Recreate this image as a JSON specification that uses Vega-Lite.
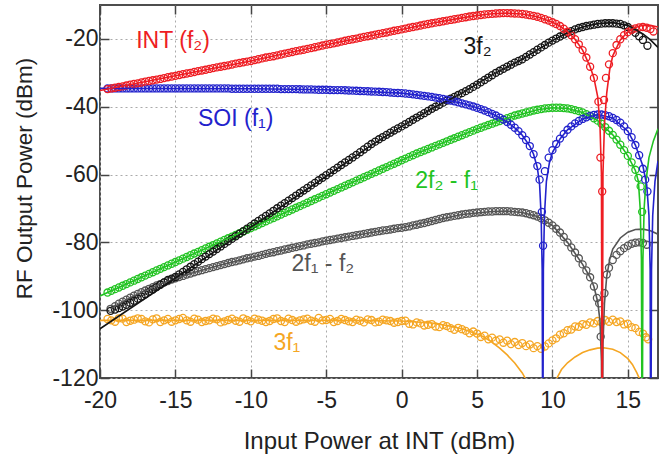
{
"$schema": "https://vega.github.io/schema/vega-lite/v6.json",
"width": 558, "height": 373,
"autosize": "none",
"padding": {"left": 100, "top": 5, "right": 7, "bottom": 82},
"background": "white",
"config": {"view": {"stroke": "#4d4d4d", "strokeWidth": 2}, "font": "Liberation Sans"},
"datasets": {
"pts": [
{"s":"O","x":-19.5,"y":-102.6},{"s":"O","x":-19,"y":-103.4},{"s":"O","x":-18.5,"y":-102.5},{"s":"O","x":-18,"y":-103.1},{"s":"O","x":-17.5,"y":-102.4},{"s":"O","x":-17,"y":-103.3},{"s":"O","x":-16.5,"y":-102.7},{"s":"O","x":-16,"y":-103.5},{"s":"O","x":-15.5,"y":-102.6},{"s":"O","x":-15,"y":-103.0},{"s":"O","x":-14.5,"y":-102.3},{"s":"O","x":-14,"y":-103.4},{"s":"O","x":-13.5,"y":-102.8},{"s":"O","x":-13,"y":-103.2},{"s":"O","x":-12.5,"y":-102.5},{"s":"O","x":-12,"y":-103.6},{"s":"O","x":-11.5,"y":-102.9},{"s":"O","x":-11,"y":-103.1},{"s":"O","x":-10.5,"y":-102.4},{"s":"O","x":-10,"y":-103.3},{"s":"O","x":-9.5,"y":-102.8},{"s":"O","x":-9,"y":-103.5},{"s":"O","x":-8.5,"y":-102.6},{"s":"O","x":-8,"y":-103.2},{"s":"O","x":-7.5,"y":-102.5},{"s":"O","x":-7,"y":-103.4},{"s":"O","x":-6.5,"y":-102.7},{"s":"O","x":-6,"y":-103.1},{"s":"O","x":-5.5,"y":-102.3},{"s":"O","x":-5,"y":-102.9},{"s":"O","x":-4.5,"y":-103.5},{"s":"O","x":-4,"y":-102.6},{"s":"O","x":-3.5,"y":-103.3},{"s":"O","x":-3,"y":-102.8},{"s":"O","x":-2.5,"y":-103.6},{"s":"O","x":-2,"y":-102.9},{"s":"O","x":-1.5,"y":-103.4},{"s":"O","x":-1,"y":-103.0},{"s":"O","x":-0.5,"y":-103.7},{"s":"O","x":0,"y":-103.2},{"s":"O","x":0.5,"y":-104.0},{"s":"O","x":1,"y":-103.6},{"s":"O","x":1.5,"y":-104.5},{"s":"O","x":2,"y":-104.1},{"s":"O","x":2.5,"y":-105.0},{"s":"O","x":3,"y":-104.7},{"s":"O","x":3.5,"y":-105.8},{"s":"O","x":4,"y":-105.6},{"s":"O","x":4.5,"y":-106.8},{"s":"O","x":5,"y":-106.9},{"s":"O","x":5.25,"y":-107.9},{"s":"O","x":5.5,"y":-107.5},{"s":"O","x":5.75,"y":-108.6},{"s":"O","x":6,"y":-108.1},{"s":"O","x":6.25,"y":-109.0},{"s":"O","x":6.5,"y":-108.6},{"s":"O","x":6.75,"y":-109.6},{"s":"O","x":7,"y":-109.0},{"s":"O","x":7.25,"y":-110.0},{"s":"O","x":7.5,"y":-109.4},{"s":"O","x":7.75,"y":-110.3},{"s":"O","x":8,"y":-109.7},{"s":"O","x":8.25,"y":-110.6},{"s":"O","x":8.5,"y":-110.1},{"s":"O","x":8.75,"y":-111.2},{"s":"O","x":9,"y":-110.6},{"s":"O","x":9.25,"y":-111.4},{"s":"O","x":9.5,"y":-110.7},{"s":"O","x":9.75,"y":-109.8},{"s":"O","x":10,"y":-108.9},{"s":"O","x":10.25,"y":-108.3},{"s":"O","x":10.5,"y":-107.2},{"s":"O","x":10.75,"y":-106.8},{"s":"O","x":11,"y":-105.9},{"s":"O","x":11.25,"y":-105.7},{"s":"O","x":11.5,"y":-104.8},{"s":"O","x":11.75,"y":-104.9},{"s":"O","x":12,"y":-104.1},{"s":"O","x":12.25,"y":-104.3},{"s":"O","x":12.5,"y":-103.6},{"s":"O","x":12.75,"y":-103.9},{"s":"O","x":13,"y":-103.2},{"s":"O","x":13.25,"y":-103.6},{"s":"O","x":13.5,"y":-102.9},{"s":"O","x":13.75,"y":-103.4},{"s":"O","x":14,"y":-102.8},{"s":"O","x":14.25,"y":-103.5},{"s":"O","x":14.5,"y":-103.3},{"s":"O","x":14.75,"y":-104.2},{"s":"O","x":15,"y":-104.0},{"s":"O","x":15.25,"y":-105.0},{"s":"O","x":15.5,"y":-105.3},{"s":"O","x":15.75,"y":-106.4},{"s":"O","x":16,"y":-106.9},{"s":"O","x":16.2,"y":-108.0},{"s":"O","x":16.35,"y":-108.6},
{"s":"O","x":-19.25,"y":-103.0},{"s":"O","x":-18.75,"y":-102.4},{"s":"O","x":-18.25,"y":-103.5},{"s":"O","x":-17.75,"y":-102.8},{"s":"O","x":-17.25,"y":-102.6},{"s":"O","x":-16.75,"y":-103.6},{"s":"O","x":-16.25,"y":-102.4},{"s":"O","x":-15.75,"y":-103.0},{"s":"O","x":-15.25,"y":-103.4},{"s":"O","x":-14.75,"y":-102.6},{"s":"O","x":-14.25,"y":-103.0},{"s":"O","x":-13.75,"y":-102.5},{"s":"O","x":-13.25,"y":-103.5},{"s":"O","x":-12.75,"y":-103.0},{"s":"O","x":-12.25,"y":-102.7},{"s":"O","x":-11.75,"y":-103.3},{"s":"O","x":-11.25,"y":-102.5},{"s":"O","x":-10.75,"y":-103.4},{"s":"O","x":-10.25,"y":-102.9},{"s":"O","x":-9.75,"y":-102.5},{"s":"O","x":-9.25,"y":-103.1},{"s":"O","x":-8.75,"y":-103.2},{"s":"O","x":-8.25,"y":-102.4},{"s":"O","x":-7.75,"y":-103.5},{"s":"O","x":-7.25,"y":-102.9},{"s":"O","x":-6.75,"y":-103.0},{"s":"O","x":-6.25,"y":-102.5},{"s":"O","x":-5.75,"y":-103.4},{"s":"O","x":-5.25,"y":-103.0},{"s":"O","x":-4.75,"y":-102.6},{"s":"O","x":-4.25,"y":-103.2},{"s":"O","x":-3.75,"y":-102.9},{"s":"O","x":-3.25,"y":-103.5},{"s":"O","x":-2.75,"y":-103.1},{"s":"O","x":-2.25,"y":-102.7},{"s":"O","x":-1.75,"y":-103.6},{"s":"O","x":-1.25,"y":-102.8},{"s":"O","x":-0.75,"y":-103.2},{"s":"O","x":-0.25,"y":-103.5},{"s":"O","x":0.25,"y":-103.1},{"s":"O","x":0.75,"y":-104.2},{"s":"O","x":1.25,"y":-103.9},{"s":"O","x":1.75,"y":-104.3},{"s":"O","x":2.25,"y":-104.8},{"s":"O","x":2.75,"y":-104.4},{"s":"O","x":3.25,"y":-105.3},{"s":"O","x":3.75,"y":-105.2},{"s":"O","x":4.25,"y":-106.1},{"s":"O","x":4.75,"y":-106.3},
{"s":"D","x":-19.3,"y":-99.6},{"s":"D","x":-19,"y":-98.8},{"s":"D","x":-18.5,"y":-97.5},{"s":"D","x":-18,"y":-96.3},{"s":"D","x":-17.5,"y":-95.2},{"s":"D","x":-17,"y":-94.2},{"s":"D","x":-16.5,"y":-93.2},{"s":"D","x":-16,"y":-92.3},{"s":"D","x":-15.5,"y":-91.4},{"s":"D","x":-15,"y":-90.6},{"s":"D","x":-14.5,"y":-89.9},{"s":"D","x":-14,"y":-89.2},{"s":"D","x":-13.5,"y":-88.5},{"s":"D","x":-13,"y":-87.9},{"s":"D","x":-12.5,"y":-87.3},{"s":"D","x":-12,"y":-86.7},{"s":"D","x":-11.5,"y":-86.1},{"s":"D","x":-11,"y":-85.6},{"s":"D","x":-10.5,"y":-85.0},{"s":"D","x":-10,"y":-84.5},{"s":"D","x":-9.5,"y":-84.0},{"s":"D","x":-9,"y":-83.4},{"s":"D","x":-8.5,"y":-82.9},{"s":"D","x":-8,"y":-82.4},{"s":"D","x":-7.5,"y":-81.9},{"s":"D","x":-7,"y":-81.4},{"s":"D","x":-6.5,"y":-80.9},{"s":"D","x":-6,"y":-80.4},{"s":"D","x":-5.5,"y":-80.0},{"s":"D","x":-5,"y":-79.5},{"s":"D","x":-4.5,"y":-79.1},{"s":"D","x":-4,"y":-78.7},{"s":"D","x":-3.5,"y":-78.3},{"s":"D","x":-3,"y":-77.9},{"s":"D","x":-2.5,"y":-77.5},{"s":"D","x":-2,"y":-77.1},{"s":"D","x":-1.5,"y":-76.7},{"s":"D","x":-1,"y":-76.4},{"s":"D","x":-0.5,"y":-76.0},{"s":"D","x":0,"y":-75.7},{"s":"D","x":0.5,"y":-75.3},{"s":"D","x":1,"y":-74.8},{"s":"D","x":1.5,"y":-74.3},{"s":"D","x":2,"y":-73.7},{"s":"D","x":2.5,"y":-73.1},{"s":"D","x":3,"y":-72.6},{"s":"D","x":3.5,"y":-72.2},{"s":"D","x":4,"y":-71.8},{"s":"D","x":4.5,"y":-71.5},{"s":"D","x":5,"y":-71.2},{"s":"D","x":5.25,"y":-71.1},{"s":"D","x":5.5,"y":-71.0},{"s":"D","x":5.75,"y":-70.9},{"s":"D","x":6,"y":-70.9},{"s":"D","x":6.25,"y":-70.8},{"s":"D","x":6.5,"y":-70.8},{"s":"D","x":6.75,"y":-70.8},{"s":"D","x":7,"y":-70.8},{"s":"D","x":7.25,"y":-70.9},{"s":"D","x":7.5,"y":-71.0},{"s":"D","x":7.75,"y":-71.1},{"s":"D","x":8,"y":-71.2},{"s":"D","x":8.25,"y":-71.4},{"s":"D","x":8.5,"y":-71.7},{"s":"D","x":8.75,"y":-72.0},{"s":"D","x":9,"y":-72.4},{"s":"D","x":9.25,"y":-72.9},{"s":"D","x":9.5,"y":-73.5},{"s":"D","x":9.75,"y":-74.2},{"s":"D","x":10,"y":-75.0},{"s":"D","x":10.25,"y":-76.0},{"s":"D","x":10.5,"y":-77.1},{"s":"D","x":10.75,"y":-78.4},{"s":"D","x":11,"y":-80.0},{"s":"D","x":11.25,"y":-81.5},{"s":"D","x":11.5,"y":-83.0},{"s":"D","x":11.75,"y":-84.7},{"s":"D","x":12,"y":-86.5},{"s":"D","x":12.25,"y":-88.3},{"s":"D","x":12.5,"y":-90.3},{"s":"D","x":12.75,"y":-93.0},{"s":"D","x":12.95,"y":-96.4},{"s":"D","x":13.1,"y":-98.0},{"s":"D","x":13.2,"y":-107.8},{"s":"D","x":13.45,"y":-95.0},{"s":"D","x":13.6,"y":-89.5},{"s":"D","x":13.75,"y":-87.5},{"s":"D","x":14,"y":-85.2},{"s":"D","x":14.25,"y":-83.7},{"s":"D","x":14.5,"y":-82.6},{"s":"D","x":14.75,"y":-81.7},{"s":"D","x":15,"y":-81.0},{"s":"D","x":15.25,"y":-80.4},{"s":"D","x":15.5,"y":-80.1},{"s":"D","x":15.75,"y":-80.0},{"s":"D","x":16,"y":-80.2},{"s":"D","x":16.25,"y":-80.7},
{"s":"D","x":-18.75,"y":-98.1},{"s":"D","x":-18.25,"y":-96.9},{"s":"D","x":-17.75,"y":-95.7},{"s":"D","x":-17.25,"y":-94.7},{"s":"D","x":-16.75,"y":-93.7},{"s":"D","x":-16.25,"y":-92.7},{"s":"D","x":-15.75,"y":-91.8},{"s":"D","x":-15.25,"y":-91.0},{"s":"D","x":-14.75,"y":-90.2},{"s":"D","x":-14.25,"y":-89.5},{"s":"D","x":-13.75,"y":-88.8},{"s":"D","x":-13.25,"y":-88.2},{"s":"D","x":-12.75,"y":-87.6},{"s":"D","x":-12.25,"y":-87.0},{"s":"D","x":-11.75,"y":-86.4},{"s":"D","x":-11.25,"y":-85.8},{"s":"D","x":-10.75,"y":-85.3},{"s":"D","x":-10.25,"y":-84.7},{"s":"D","x":-9.75,"y":-84.2},{"s":"D","x":-9.25,"y":-83.7},{"s":"D","x":-8.75,"y":-83.1},{"s":"D","x":-8.25,"y":-82.6},{"s":"D","x":-7.75,"y":-82.1},{"s":"D","x":-7.25,"y":-81.6},{"s":"D","x":-6.75,"y":-81.1},{"s":"D","x":-6.25,"y":-80.6},{"s":"D","x":-5.75,"y":-80.2},{"s":"D","x":-5.25,"y":-79.7},{"s":"D","x":-4.75,"y":-79.3},{"s":"D","x":-4.25,"y":-78.9},{"s":"D","x":-3.75,"y":-78.5},{"s":"D","x":-3.25,"y":-78.1},{"s":"D","x":-2.75,"y":-77.7},{"s":"D","x":-2.25,"y":-77.3},{"s":"D","x":-1.75,"y":-76.9},{"s":"D","x":-1.25,"y":-76.5},{"s":"D","x":-0.75,"y":-76.2},{"s":"D","x":-0.25,"y":-75.8},{"s":"D","x":0.25,"y":-75.5},{"s":"D","x":0.75,"y":-75.0},{"s":"D","x":1.25,"y":-74.5},{"s":"D","x":1.75,"y":-74.0},{"s":"D","x":2.25,"y":-73.4},{"s":"D","x":2.75,"y":-72.8},{"s":"D","x":3.25,"y":-72.4},{"s":"D","x":3.75,"y":-72.0},{"s":"D","x":4.25,"y":-71.6},{"s":"D","x":4.75,"y":-71.3},
{"s":"G","x":-19.5,"y":-94.8},{"s":"G","x":-19,"y":-93.8},{"s":"G","x":-18.5,"y":-92.8},{"s":"G","x":-18,"y":-91.8},{"s":"G","x":-17.5,"y":-90.8},{"s":"G","x":-17,"y":-89.8},{"s":"G","x":-16.5,"y":-88.8},{"s":"G","x":-16,"y":-87.8},{"s":"G","x":-15.5,"y":-86.8},{"s":"G","x":-15,"y":-85.8},{"s":"G","x":-14.5,"y":-84.8},{"s":"G","x":-14,"y":-83.8},{"s":"G","x":-13.5,"y":-82.8},{"s":"G","x":-13,"y":-81.8},{"s":"G","x":-12.5,"y":-80.8},{"s":"G","x":-12,"y":-79.8},{"s":"G","x":-11.5,"y":-78.8},{"s":"G","x":-11,"y":-77.8},{"s":"G","x":-10.5,"y":-76.8},{"s":"G","x":-10,"y":-75.8},{"s":"G","x":-9.5,"y":-74.8},{"s":"G","x":-9,"y":-73.8},{"s":"G","x":-8.5,"y":-72.8},{"s":"G","x":-8,"y":-71.8},{"s":"G","x":-7.5,"y":-70.8},{"s":"G","x":-7,"y":-69.8},{"s":"G","x":-6.5,"y":-68.8},{"s":"G","x":-6,"y":-67.8},{"s":"G","x":-5.5,"y":-66.8},{"s":"G","x":-5,"y":-65.8},{"s":"G","x":-4.5,"y":-64.8},{"s":"G","x":-4,"y":-63.8},{"s":"G","x":-3.5,"y":-62.8},{"s":"G","x":-3,"y":-61.8},{"s":"G","x":-2.5,"y":-60.8},{"s":"G","x":-2,"y":-59.8},{"s":"G","x":-1.5,"y":-58.8},{"s":"G","x":-1,"y":-57.8},{"s":"G","x":-0.5,"y":-56.8},{"s":"G","x":0,"y":-55.8},{"s":"G","x":0.5,"y":-54.8},{"s":"G","x":1,"y":-53.8},{"s":"G","x":1.5,"y":-52.9},{"s":"G","x":2,"y":-52.0},{"s":"G","x":2.5,"y":-51.1},{"s":"G","x":3,"y":-50.2},{"s":"G","x":3.5,"y":-49.3},{"s":"G","x":4,"y":-48.4},{"s":"G","x":4.5,"y":-47.5},{"s":"G","x":5,"y":-46.6},{"s":"G","x":5.25,"y":-46.2},{"s":"G","x":5.5,"y":-45.8},{"s":"G","x":5.75,"y":-45.4},{"s":"G","x":6,"y":-45.0},{"s":"G","x":6.25,"y":-44.6},{"s":"G","x":6.5,"y":-44.2},{"s":"G","x":6.75,"y":-43.8},{"s":"G","x":7,"y":-43.4},{"s":"G","x":7.25,"y":-43.0},{"s":"G","x":7.5,"y":-42.6},{"s":"G","x":7.75,"y":-42.3},{"s":"G","x":8,"y":-42.0},{"s":"G","x":8.25,"y":-41.7},{"s":"G","x":8.5,"y":-41.4},{"s":"G","x":8.75,"y":-41.1},{"s":"G","x":9,"y":-40.9},{"s":"G","x":9.25,"y":-40.7},{"s":"G","x":9.5,"y":-40.5},{"s":"G","x":9.75,"y":-40.4},{"s":"G","x":10,"y":-40.3},{"s":"G","x":10.25,"y":-40.3},{"s":"G","x":10.5,"y":-40.3},{"s":"G","x":10.75,"y":-40.4},{"s":"G","x":11,"y":-40.5},{"s":"G","x":11.25,"y":-40.7},{"s":"G","x":11.5,"y":-41.0},{"s":"G","x":11.75,"y":-41.3},{"s":"G","x":12,"y":-41.7},{"s":"G","x":12.25,"y":-42.2},{"s":"G","x":12.5,"y":-42.7},{"s":"G","x":12.75,"y":-43.4},{"s":"G","x":13,"y":-44.1},{"s":"G","x":13.25,"y":-45.0},{"s":"G","x":13.5,"y":-46.0},{"s":"G","x":13.75,"y":-47.1},{"s":"G","x":14,"y":-48.3},{"s":"G","x":14.25,"y":-49.7},{"s":"G","x":14.5,"y":-51.2},{"s":"G","x":14.75,"y":-52.8},{"s":"G","x":15,"y":-54.5},{"s":"G","x":15.25,"y":-56.4},{"s":"G","x":15.5,"y":-58.6},{"s":"G","x":15.7,"y":-61.0},{"s":"G","x":15.85,"y":-63.5},{"s":"G","x":15.95,"y":-71.0},
{"s":"G","x":-19.25,"y":-94.3},{"s":"G","x":-18.75,"y":-93.3},{"s":"G","x":-18.25,"y":-92.3},{"s":"G","x":-17.75,"y":-91.3},{"s":"G","x":-17.25,"y":-90.3},{"s":"G","x":-16.75,"y":-89.3},{"s":"G","x":-16.25,"y":-88.3},{"s":"G","x":-15.75,"y":-87.3},{"s":"G","x":-15.25,"y":-86.3},{"s":"G","x":-14.75,"y":-85.3},{"s":"G","x":-14.25,"y":-84.3},{"s":"G","x":-13.75,"y":-83.3},{"s":"G","x":-13.25,"y":-82.3},{"s":"G","x":-12.75,"y":-81.3},{"s":"G","x":-12.25,"y":-80.3},{"s":"G","x":-11.75,"y":-79.3},{"s":"G","x":-11.25,"y":-78.3},{"s":"G","x":-10.75,"y":-77.3},{"s":"G","x":-10.25,"y":-76.3},{"s":"G","x":-9.75,"y":-75.3},{"s":"G","x":-9.25,"y":-74.3},{"s":"G","x":-8.75,"y":-73.3},{"s":"G","x":-8.25,"y":-72.3},{"s":"G","x":-7.75,"y":-71.3},{"s":"G","x":-7.25,"y":-70.3},{"s":"G","x":-6.75,"y":-69.3},{"s":"G","x":-6.25,"y":-68.3},{"s":"G","x":-5.75,"y":-67.3},{"s":"G","x":-5.25,"y":-66.3},{"s":"G","x":-4.75,"y":-65.3},{"s":"G","x":-4.25,"y":-64.3},{"s":"G","x":-3.75,"y":-63.3},{"s":"G","x":-3.25,"y":-62.3},{"s":"G","x":-2.75,"y":-61.3},{"s":"G","x":-2.25,"y":-60.3},{"s":"G","x":-1.75,"y":-59.3},{"s":"G","x":-1.25,"y":-58.3},{"s":"G","x":-0.75,"y":-57.3},{"s":"G","x":-0.25,"y":-56.3},{"s":"G","x":0.25,"y":-55.3},{"s":"G","x":0.75,"y":-54.3},{"s":"G","x":1.25,"y":-53.35},{"s":"G","x":1.75,"y":-52.45},{"s":"G","x":2.25,"y":-51.55},{"s":"G","x":2.75,"y":-50.65},{"s":"G","x":3.25,"y":-49.75},{"s":"G","x":3.75,"y":-48.85},{"s":"G","x":4.25,"y":-47.95},{"s":"G","x":4.75,"y":-47.05},
{"s":"K","x":-19.3,"y":-100.2},{"s":"K","x":-19,"y":-99.8},{"s":"K","x":-18.5,"y":-98.9},{"s":"K","x":-18,"y":-97.8},{"s":"K","x":-17.5,"y":-96.6},{"s":"K","x":-17,"y":-95.3},{"s":"K","x":-16.5,"y":-93.9},{"s":"K","x":-16,"y":-92.5},{"s":"K","x":-15.5,"y":-91.1},{"s":"K","x":-15,"y":-90.2},{"s":"K","x":-14.5,"y":-88.7},{"s":"K","x":-14,"y":-87.2},{"s":"K","x":-13.5,"y":-85.7},{"s":"K","x":-13,"y":-84.2},{"s":"K","x":-12.5,"y":-82.7},{"s":"K","x":-12,"y":-81.2},{"s":"K","x":-11.5,"y":-79.7},{"s":"K","x":-11,"y":-78.2},{"s":"K","x":-10.5,"y":-76.7},{"s":"K","x":-10,"y":-75.2},{"s":"K","x":-9.5,"y":-73.7},{"s":"K","x":-9,"y":-72.2},{"s":"K","x":-8.5,"y":-70.7},{"s":"K","x":-8,"y":-69.2},{"s":"K","x":-7.5,"y":-67.7},{"s":"K","x":-7,"y":-66.2},{"s":"K","x":-6.5,"y":-64.7},{"s":"K","x":-6,"y":-63.2},{"s":"K","x":-5.5,"y":-61.7},{"s":"K","x":-5,"y":-60.2},{"s":"K","x":-4.5,"y":-58.7},{"s":"K","x":-4,"y":-57.2},{"s":"K","x":-3.5,"y":-55.7},{"s":"K","x":-3,"y":-54.2},{"s":"K","x":-2.5,"y":-52.6},{"s":"K","x":-2,"y":-51.0},{"s":"K","x":-1.5,"y":-49.6},{"s":"K","x":-1,"y":-48.3},{"s":"K","x":-0.5,"y":-47.0},{"s":"K","x":0,"y":-45.8},{"s":"K","x":0.5,"y":-44.5},{"s":"K","x":1,"y":-43.2},{"s":"K","x":1.5,"y":-41.9},{"s":"K","x":2,"y":-40.6},{"s":"K","x":2.5,"y":-39.4},{"s":"K","x":3,"y":-38.2},{"s":"K","x":3.5,"y":-37.1},{"s":"K","x":4,"y":-36.0},{"s":"K","x":4.5,"y":-34.8},{"s":"K","x":5,"y":-33.5},{"s":"K","x":5.25,"y":-32.8},{"s":"K","x":5.5,"y":-32.1},{"s":"K","x":5.75,"y":-31.4},{"s":"K","x":6,"y":-30.7},{"s":"K","x":6.25,"y":-30.0},{"s":"K","x":6.5,"y":-29.4},{"s":"K","x":6.75,"y":-28.8},{"s":"K","x":7,"y":-28.2},{"s":"K","x":7.25,"y":-27.6},{"s":"K","x":7.5,"y":-27.0},{"s":"K","x":7.75,"y":-26.5},{"s":"K","x":8,"y":-26.0},{"s":"K","x":8.25,"y":-25.3},{"s":"K","x":8.5,"y":-24.6},{"s":"K","x":8.75,"y":-23.9},{"s":"K","x":9,"y":-23.2},{"s":"K","x":9.25,"y":-22.5},{"s":"K","x":9.5,"y":-21.8},{"s":"K","x":9.75,"y":-21.1},{"s":"K","x":10,"y":-20.5},{"s":"K","x":10.25,"y":-19.9},{"s":"K","x":10.5,"y":-19.3},{"s":"K","x":10.75,"y":-18.7},{"s":"K","x":11,"y":-18.2},{"s":"K","x":11.25,"y":-17.7},{"s":"K","x":11.5,"y":-17.2},{"s":"K","x":11.75,"y":-16.8},{"s":"K","x":12,"y":-16.5},{"s":"K","x":12.25,"y":-16.2},{"s":"K","x":12.5,"y":-16.0},{"s":"K","x":12.75,"y":-15.8},{"s":"K","x":13,"y":-15.6},{"s":"K","x":13.25,"y":-15.5},{"s":"K","x":13.5,"y":-15.4},{"s":"K","x":13.75,"y":-15.4},{"s":"K","x":14,"y":-15.4},{"s":"K","x":14.25,"y":-15.5},{"s":"K","x":14.5,"y":-15.6},{"s":"K","x":14.75,"y":-16.0},{"s":"K","x":15,"y":-16.5},{"s":"K","x":15.25,"y":-17.3},{"s":"K","x":15.5,"y":-18.2},{"s":"K","x":15.75,"y":-19.2},{"s":"K","x":16,"y":-20.3},{"s":"K","x":16.3,"y":-22.0},
{"s":"K","x":-18.75,"y":-99.4},{"s":"K","x":-18.25,"y":-98.4},{"s":"K","x":-17.75,"y":-97.2},{"s":"K","x":-17.25,"y":-96.0},{"s":"K","x":-16.75,"y":-94.6},{"s":"K","x":-16.25,"y":-93.2},{"s":"K","x":-15.75,"y":-91.8},{"s":"K","x":-15.25,"y":-90.7},{"s":"K","x":-14.75,"y":-89.45},{"s":"K","x":-14.25,"y":-87.95},{"s":"K","x":-13.75,"y":-86.45},{"s":"K","x":-13.25,"y":-84.95},{"s":"K","x":-12.75,"y":-83.45},{"s":"K","x":-12.25,"y":-81.95},{"s":"K","x":-11.75,"y":-80.45},{"s":"K","x":-11.25,"y":-78.95},{"s":"K","x":-10.75,"y":-77.45},{"s":"K","x":-10.25,"y":-75.95},{"s":"K","x":-9.75,"y":-74.45},{"s":"K","x":-9.25,"y":-72.95},{"s":"K","x":-8.75,"y":-71.45},{"s":"K","x":-8.25,"y":-69.95},{"s":"K","x":-7.75,"y":-68.45},{"s":"K","x":-7.25,"y":-66.95},{"s":"K","x":-6.75,"y":-65.45},{"s":"K","x":-6.25,"y":-63.95},{"s":"K","x":-5.75,"y":-62.45},{"s":"K","x":-5.25,"y":-60.95},{"s":"K","x":-4.75,"y":-59.45},{"s":"K","x":-4.25,"y":-57.95},{"s":"K","x":-3.75,"y":-56.45},{"s":"K","x":-3.25,"y":-54.95},{"s":"K","x":-2.75,"y":-53.4},{"s":"K","x":-2.25,"y":-51.8},{"s":"K","x":-1.75,"y":-50.3},{"s":"K","x":-1.25,"y":-48.95},{"s":"K","x":-0.75,"y":-47.65},{"s":"K","x":-0.25,"y":-46.4},{"s":"K","x":0.25,"y":-45.15},{"s":"K","x":0.75,"y":-43.85},{"s":"K","x":1.25,"y":-42.55},{"s":"K","x":1.75,"y":-41.25},{"s":"K","x":2.25,"y":-40.0},{"s":"K","x":2.75,"y":-38.8},{"s":"K","x":3.25,"y":-37.65},{"s":"K","x":3.75,"y":-36.55},{"s":"K","x":4.25,"y":-35.4},{"s":"K","x":4.75,"y":-34.15},
{"s":"B","x":-19.5,"y":-34.6},{"s":"B","x":-19,"y":-34.6},{"s":"B","x":-18.5,"y":-34.6},{"s":"B","x":-18,"y":-34.6},{"s":"B","x":-17.5,"y":-34.6},{"s":"B","x":-17,"y":-34.6},{"s":"B","x":-16.5,"y":-34.6},{"s":"B","x":-16,"y":-34.6},{"s":"B","x":-15.5,"y":-34.6},{"s":"B","x":-15,"y":-34.6},{"s":"B","x":-14.5,"y":-34.6},{"s":"B","x":-14,"y":-34.6},{"s":"B","x":-13.5,"y":-34.6},{"s":"B","x":-13,"y":-34.6},{"s":"B","x":-12.5,"y":-34.6},{"s":"B","x":-12,"y":-34.6},{"s":"B","x":-11.5,"y":-34.6},{"s":"B","x":-11,"y":-34.7},{"s":"B","x":-10.5,"y":-34.7},{"s":"B","x":-10,"y":-34.7},{"s":"B","x":-9.5,"y":-34.7},{"s":"B","x":-9,"y":-34.7},{"s":"B","x":-8.5,"y":-34.7},{"s":"B","x":-8,"y":-34.8},{"s":"B","x":-7.5,"y":-34.8},{"s":"B","x":-7,"y":-34.8},{"s":"B","x":-6.5,"y":-34.9},{"s":"B","x":-6,"y":-34.9},{"s":"B","x":-5.5,"y":-35.0},{"s":"B","x":-5,"y":-35.0},{"s":"B","x":-4.5,"y":-35.1},{"s":"B","x":-4,"y":-35.1},{"s":"B","x":-3.5,"y":-35.2},{"s":"B","x":-3,"y":-35.3},{"s":"B","x":-2.5,"y":-35.4},{"s":"B","x":-2,"y":-35.5},{"s":"B","x":-1.5,"y":-35.6},{"s":"B","x":-1,"y":-35.7},{"s":"B","x":-0.5,"y":-35.9},{"s":"B","x":0,"y":-36.0},{"s":"B","x":0.5,"y":-36.2},{"s":"B","x":1,"y":-36.5},{"s":"B","x":1.5,"y":-36.8},{"s":"B","x":2,"y":-37.1},{"s":"B","x":2.5,"y":-37.5},{"s":"B","x":3,"y":-37.9},{"s":"B","x":3.5,"y":-38.4},{"s":"B","x":4,"y":-39.0},{"s":"B","x":4.5,"y":-39.6},{"s":"B","x":5,"y":-40.3},{"s":"B","x":5.25,"y":-40.7},{"s":"B","x":5.5,"y":-41.1},{"s":"B","x":5.75,"y":-41.6},{"s":"B","x":6,"y":-42.1},{"s":"B","x":6.25,"y":-42.6},{"s":"B","x":6.5,"y":-43.2},{"s":"B","x":6.75,"y":-43.8},{"s":"B","x":7,"y":-44.5},{"s":"B","x":7.25,"y":-45.3},{"s":"B","x":7.5,"y":-46.2},{"s":"B","x":7.75,"y":-47.2},{"s":"B","x":8,"y":-48.4},{"s":"B","x":8.25,"y":-49.8},{"s":"B","x":8.5,"y":-51.6},{"s":"B","x":8.75,"y":-54.0},{"s":"B","x":9,"y":-57.5},{"s":"B","x":9.15,"y":-61.5},{"s":"B","x":9.3,"y":-71.0},{"s":"B","x":9.38,"y":-81.0},{"s":"B","x":9.5,"y":-59.0},{"s":"B","x":9.75,"y":-55.0},{"s":"B","x":10,"y":-52.8},{"s":"B","x":10.25,"y":-51.0},{"s":"B","x":10.5,"y":-49.4},{"s":"B","x":10.75,"y":-48.0},{"s":"B","x":11,"y":-46.8},{"s":"B","x":11.25,"y":-45.8},{"s":"B","x":11.5,"y":-44.9},{"s":"B","x":11.75,"y":-44.2},{"s":"B","x":12,"y":-43.6},{"s":"B","x":12.25,"y":-43.1},{"s":"B","x":12.5,"y":-42.7},{"s":"B","x":12.75,"y":-42.4},{"s":"B","x":13,"y":-42.3},{"s":"B","x":13.25,"y":-42.3},{"s":"B","x":13.5,"y":-42.5},{"s":"B","x":13.75,"y":-42.8},{"s":"B","x":14,"y":-43.3},{"s":"B","x":14.25,"y":-43.9},{"s":"B","x":14.5,"y":-44.7},{"s":"B","x":14.75,"y":-45.8},{"s":"B","x":15,"y":-47.2},{"s":"B","x":15.25,"y":-49.0},{"s":"B","x":15.5,"y":-51.3},{"s":"B","x":15.75,"y":-54.3},{"s":"B","x":16,"y":-58.3},{"s":"B","x":16.15,"y":-61.5},{"s":"B","x":16.3,"y":-65.0},
{"s":"B","x":-19.25,"y":-34.6},{"s":"B","x":-18.75,"y":-34.6},{"s":"B","x":-18.25,"y":-34.6},{"s":"B","x":-17.75,"y":-34.6},{"s":"B","x":-17.25,"y":-34.6},{"s":"B","x":-16.75,"y":-34.6},{"s":"B","x":-16.25,"y":-34.6},{"s":"B","x":-15.75,"y":-34.6},{"s":"B","x":-15.25,"y":-34.6},{"s":"B","x":-14.75,"y":-34.6},{"s":"B","x":-14.25,"y":-34.6},{"s":"B","x":-13.75,"y":-34.6},{"s":"B","x":-13.25,"y":-34.6},{"s":"B","x":-12.75,"y":-34.6},{"s":"B","x":-12.25,"y":-34.6},{"s":"B","x":-11.75,"y":-34.6},{"s":"B","x":-11.25,"y":-34.7},{"s":"B","x":-10.75,"y":-34.7},{"s":"B","x":-10.25,"y":-34.7},{"s":"B","x":-9.75,"y":-34.7},{"s":"B","x":-9.25,"y":-34.7},{"s":"B","x":-8.75,"y":-34.7},{"s":"B","x":-8.25,"y":-34.7},{"s":"B","x":-7.75,"y":-34.8},{"s":"B","x":-7.25,"y":-34.8},{"s":"B","x":-6.75,"y":-34.85},{"s":"B","x":-6.25,"y":-34.9},{"s":"B","x":-5.75,"y":-34.95},{"s":"B","x":-5.25,"y":-35.0},{"s":"B","x":-4.75,"y":-35.05},{"s":"B","x":-4.25,"y":-35.1},{"s":"B","x":-3.75,"y":-35.15},{"s":"B","x":-3.25,"y":-35.25},{"s":"B","x":-2.75,"y":-35.35},{"s":"B","x":-2.25,"y":-35.45},{"s":"B","x":-1.75,"y":-35.55},{"s":"B","x":-1.25,"y":-35.65},{"s":"B","x":-0.75,"y":-35.8},{"s":"B","x":-0.25,"y":-35.95},{"s":"B","x":0.25,"y":-36.1},{"s":"B","x":0.75,"y":-36.35},{"s":"B","x":1.25,"y":-36.65},{"s":"B","x":1.75,"y":-36.95},{"s":"B","x":2.25,"y":-37.3},{"s":"B","x":2.75,"y":-37.7},{"s":"B","x":3.25,"y":-38.15},{"s":"B","x":3.75,"y":-38.7},{"s":"B","x":4.25,"y":-39.3},{"s":"B","x":4.75,"y":-39.95},
{"s":"R","x":-19.5,"y":-34.8},{"s":"R","x":-19,"y":-34.4},{"s":"R","x":-18.5,"y":-34.0},{"s":"R","x":-18,"y":-33.5},{"s":"R","x":-17.5,"y":-33.1},{"s":"R","x":-17,"y":-32.6},{"s":"R","x":-16.5,"y":-32.2},{"s":"R","x":-16,"y":-31.8},{"s":"R","x":-15.5,"y":-31.3},{"s":"R","x":-15,"y":-30.9},{"s":"R","x":-14.5,"y":-30.4},{"s":"R","x":-14,"y":-30.0},{"s":"R","x":-13.5,"y":-29.5},{"s":"R","x":-13,"y":-29.1},{"s":"R","x":-12.5,"y":-28.6},{"s":"R","x":-12,"y":-28.2},{"s":"R","x":-11.5,"y":-27.8},{"s":"R","x":-11,"y":-27.3},{"s":"R","x":-10.5,"y":-26.9},{"s":"R","x":-10,"y":-26.5},{"s":"R","x":-9.5,"y":-26.0},{"s":"R","x":-9,"y":-25.5},{"s":"R","x":-8.5,"y":-25.1},{"s":"R","x":-8,"y":-24.6},{"s":"R","x":-7.5,"y":-24.1},{"s":"R","x":-7,"y":-23.6},{"s":"R","x":-6.5,"y":-23.2},{"s":"R","x":-6,"y":-22.7},{"s":"R","x":-5.5,"y":-22.2},{"s":"R","x":-5,"y":-21.7},{"s":"R","x":-4.5,"y":-21.3},{"s":"R","x":-4,"y":-20.8},{"s":"R","x":-3.5,"y":-20.3},{"s":"R","x":-3,"y":-19.9},{"s":"R","x":-2.5,"y":-19.4},{"s":"R","x":-2,"y":-19.0},{"s":"R","x":-1.5,"y":-18.5},{"s":"R","x":-1,"y":-18.1},{"s":"R","x":-0.5,"y":-17.6},{"s":"R","x":0,"y":-17.2},{"s":"R","x":0.5,"y":-16.7},{"s":"R","x":1,"y":-16.3},{"s":"R","x":1.5,"y":-15.8},{"s":"R","x":2,"y":-15.4},{"s":"R","x":2.5,"y":-15.0},{"s":"R","x":3,"y":-14.6},{"s":"R","x":3.5,"y":-14.2},{"s":"R","x":4,"y":-13.8},{"s":"R","x":4.5,"y":-13.4},{"s":"R","x":5,"y":-13.1},{"s":"R","x":5.25,"y":-12.95},{"s":"R","x":5.5,"y":-12.8},{"s":"R","x":5.75,"y":-12.7},{"s":"R","x":6,"y":-12.6},{"s":"R","x":6.25,"y":-12.5},{"s":"R","x":6.5,"y":-12.45},{"s":"R","x":6.75,"y":-12.4},{"s":"R","x":7,"y":-12.4},{"s":"R","x":7.25,"y":-12.45},{"s":"R","x":7.5,"y":-12.5},{"s":"R","x":7.75,"y":-12.55},{"s":"R","x":8,"y":-12.65},{"s":"R","x":8.25,"y":-12.8},{"s":"R","x":8.5,"y":-13.0},{"s":"R","x":8.75,"y":-13.2},{"s":"R","x":9,"y":-13.45},{"s":"R","x":9.25,"y":-13.8},{"s":"R","x":9.5,"y":-14.2},{"s":"R","x":9.75,"y":-14.6},{"s":"R","x":10,"y":-15.1},{"s":"R","x":10.25,"y":-15.6},{"s":"R","x":10.5,"y":-16.2},{"s":"R","x":10.75,"y":-17.0},{"s":"R","x":11,"y":-17.9},{"s":"R","x":11.25,"y":-18.9},{"s":"R","x":11.5,"y":-20.1},{"s":"R","x":11.75,"y":-21.6},{"s":"R","x":12,"y":-23.3},{"s":"R","x":12.25,"y":-25.5},{"s":"R","x":12.5,"y":-28.2},{"s":"R","x":12.75,"y":-31.5},{"s":"R","x":13.05,"y":-38.5},{"s":"R","x":13.18,"y":-55.0},{"s":"R","x":13.3,"y":-65.0},{"s":"R","x":13.42,"y":-38.0},{"s":"R","x":13.55,"y":-31.5},{"s":"R","x":13.75,"y":-27.5},{"s":"R","x":14,"y":-24.2},{"s":"R","x":14.25,"y":-21.8},{"s":"R","x":14.5,"y":-20.1},{"s":"R","x":14.75,"y":-18.9},{"s":"R","x":15,"y":-18.0},{"s":"R","x":15.25,"y":-17.3},{"s":"R","x":15.5,"y":-16.9},{"s":"R","x":15.75,"y":-16.6},{"s":"R","x":16,"y":-16.5},{"s":"R","x":16.25,"y":-16.7},{"s":"R","x":16.5,"y":-17.1},{"s":"R","x":16.7,"y":-17.8},
{"s":"R","x":-19.25,"y":-34.6},{"s":"R","x":-18.75,"y":-34.2},{"s":"R","x":-18.25,"y":-33.75},{"s":"R","x":-17.75,"y":-33.3},{"s":"R","x":-17.25,"y":-32.85},{"s":"R","x":-16.75,"y":-32.4},{"s":"R","x":-16.25,"y":-32.0},{"s":"R","x":-15.75,"y":-31.55},{"s":"R","x":-15.25,"y":-31.1},{"s":"R","x":-14.75,"y":-30.65},{"s":"R","x":-14.25,"y":-30.2},{"s":"R","x":-13.75,"y":-29.75},{"s":"R","x":-13.25,"y":-29.3},{"s":"R","x":-12.75,"y":-28.85},{"s":"R","x":-12.25,"y":-28.4},{"s":"R","x":-11.75,"y":-28.0},{"s":"R","x":-11.25,"y":-27.55},{"s":"R","x":-10.75,"y":-27.1},{"s":"R","x":-10.25,"y":-26.7},{"s":"R","x":-9.75,"y":-26.25},{"s":"R","x":-9.25,"y":-25.75},{"s":"R","x":-8.75,"y":-25.3},{"s":"R","x":-8.25,"y":-24.85},{"s":"R","x":-7.75,"y":-24.35},{"s":"R","x":-7.25,"y":-23.85},{"s":"R","x":-6.75,"y":-23.4},{"s":"R","x":-6.25,"y":-22.95},{"s":"R","x":-5.75,"y":-22.45},{"s":"R","x":-5.25,"y":-21.95},{"s":"R","x":-4.75,"y":-21.5},{"s":"R","x":-4.25,"y":-21.05},{"s":"R","x":-3.75,"y":-20.55},{"s":"R","x":-3.25,"y":-20.1},{"s":"R","x":-2.75,"y":-19.65},{"s":"R","x":-2.25,"y":-19.2},{"s":"R","x":-1.75,"y":-18.75},{"s":"R","x":-1.25,"y":-18.3},{"s":"R","x":-0.75,"y":-17.85},{"s":"R","x":-0.25,"y":-17.4},{"s":"R","x":0.25,"y":-16.95},{"s":"R","x":0.75,"y":-16.5},{"s":"R","x":1.25,"y":-16.05},{"s":"R","x":1.75,"y":-15.6},{"s":"R","x":2.25,"y":-15.2},{"s":"R","x":2.75,"y":-14.8},{"s":"R","x":3.25,"y":-14.4},{"s":"R","x":3.75,"y":-14.0},{"s":"R","x":4.25,"y":-13.6},{"s":"R","x":4.75,"y":-13.25}
],
"fit": [
{"s":"O","x":-20,"y":-103},{"s":"O","x":-5,"y":-103},{"s":"O","x":0,"y":-103.2},{"s":"O","x":2,"y":-103.8},{"s":"O","x":3,"y":-104.5},{"s":"O","x":4,"y":-105.5},{"s":"O","x":5,"y":-107},{"s":"O","x":5.5,"y":-108},{"s":"O","x":6,"y":-109.5},{"s":"O","x":6.5,"y":-111.2},{"s":"O","x":7,"y":-113.2},{"s":"O","x":7.5,"y":-115.6},{"s":"O","x":8,"y":-118.5},{"s":"O","x":8.5,"y":-122.5},{"s":"O","x":9,"y":-130},{"s":"O","x":9.4,"y":-150},{"s":"O","x":9.8,"y":-130},{"s":"O","x":10.1,"y":-123},{"s":"O","x":10.3,"y":-120},{"s":"O","x":10.6,"y":-117.5},{"s":"O","x":11,"y":-115.5},{"s":"O","x":11.5,"y":-113.8},{"s":"O","x":12,"y":-112.5},{"s":"O","x":12.5,"y":-111.7},{"s":"O","x":13,"y":-111.2},{"s":"O","x":13.4,"y":-111.1},{"s":"O","x":14,"y":-111.5},{"s":"O","x":14.5,"y":-112.5},{"s":"O","x":15,"y":-114.3},{"s":"O","x":15.3,"y":-116},{"s":"O","x":15.6,"y":-118.5},{"s":"O","x":15.8,"y":-120.5},{"s":"O","x":16.1,"y":-125},{"s":"O","x":16.4,"y":-135},
{"s":"D","x":-19.3,"y":-99.6},{"s":"D","x":-18,"y":-96.3},{"s":"D","x":-16,"y":-92.3},{"s":"D","x":-14,"y":-89.2},{"s":"D","x":-12,"y":-86.7},{"s":"D","x":-10,"y":-84.5},{"s":"D","x":-8,"y":-82.4},{"s":"D","x":-6,"y":-80.4},{"s":"D","x":-4,"y":-78.7},{"s":"D","x":-2,"y":-77.1},{"s":"D","x":0,"y":-75.7},{"s":"D","x":2,"y":-73.7},{"s":"D","x":4,"y":-71.8},{"s":"D","x":6,"y":-70.9},{"s":"D","x":7,"y":-70.8},{"s":"D","x":8,"y":-71.2},{"s":"D","x":9,"y":-72.4},{"s":"D","x":10,"y":-75},{"s":"D","x":11,"y":-80},{"s":"D","x":12,"y":-86.5},{"s":"D","x":12.5,"y":-90.3},{"s":"D","x":12.75,"y":-93},{"s":"D","x":13,"y":-97.5},{"s":"D","x":13.15,"y":-103},{"s":"D","x":13.25,"y":-115},{"s":"D","x":13.3,"y":-150},{"s":"D","x":13.35,"y":-110},{"s":"D","x":13.45,"y":-98},{"s":"D","x":13.6,"y":-90},{"s":"D","x":13.8,"y":-85},{"s":"D","x":14,"y":-82},{"s":"D","x":14.5,"y":-78.7},{"s":"D","x":15,"y":-77},{"s":"D","x":15.5,"y":-76.2},{"s":"D","x":16,"y":-76.1},{"s":"D","x":16.5,"y":-76.6},{"s":"D","x":17,"y":-77.6},
{"s":"G","x":-20,"y":-95.8},{"s":"G","x":-10,"y":-75.8},{"s":"G","x":0,"y":-55.8},{"s":"G","x":1,"y":-53.8},{"s":"G","x":3,"y":-50.2},{"s":"G","x":5,"y":-46.6},{"s":"G","x":7,"y":-43.4},{"s":"G","x":9,"y":-40.9},{"s":"G","x":10,"y":-40.3},{"s":"G","x":11,"y":-40.5},{"s":"G","x":12,"y":-41.7},{"s":"G","x":13,"y":-44.1},{"s":"G","x":14,"y":-48.3},{"s":"G","x":14.5,"y":-51.2},{"s":"G","x":15,"y":-54.5},{"s":"G","x":15.5,"y":-58.8},{"s":"G","x":15.7,"y":-62},{"s":"G","x":15.82,"y":-70},{"s":"G","x":15.9,"y":-85},{"s":"G","x":15.95,"y":-150},{"s":"G","x":16,"y":-85},{"s":"G","x":16.08,"y":-70},{"s":"G","x":16.2,"y":-62},{"s":"G","x":16.4,"y":-55},{"s":"G","x":16.7,"y":-50},{"s":"G","x":17,"y":-46.5},
{"s":"K","x":-20,"y":-105.5},{"s":"K","x":-15,"y":-90.5},{"s":"K","x":-10,"y":-75.5},{"s":"K","x":-5,"y":-60.5},{"s":"K","x":-2,"y":-51.3},{"s":"K","x":0,"y":-45.8},{"s":"K","x":2,"y":-40.6},{"s":"K","x":4,"y":-36},{"s":"K","x":6,"y":-30.6},{"s":"K","x":8,"y":-26},{"s":"K","x":10,"y":-20.5},{"s":"K","x":11,"y":-18.2},{"s":"K","x":12,"y":-16.5},{"s":"K","x":13,"y":-15.5},{"s":"K","x":14,"y":-15.2},{"s":"K","x":15,"y":-16},{"s":"K","x":16,"y":-18.5},{"s":"K","x":16.5,"y":-20.3},{"s":"K","x":17,"y":-22.5},
{"s":"B","x":-20,"y":-34.6},{"s":"B","x":-10,"y":-34.7},{"s":"B","x":-5,"y":-35},{"s":"B","x":0,"y":-36},{"s":"B","x":2,"y":-37.1},{"s":"B","x":4,"y":-39},{"s":"B","x":5,"y":-40.3},{"s":"B","x":6,"y":-42.1},{"s":"B","x":7,"y":-44.5},{"s":"B","x":7.5,"y":-46.2},{"s":"B","x":8,"y":-48.4},{"s":"B","x":8.5,"y":-51.6},{"s":"B","x":8.75,"y":-54},{"s":"B","x":9,"y":-58},{"s":"B","x":9.15,"y":-63},{"s":"B","x":9.25,"y":-72},{"s":"B","x":9.32,"y":-88},{"s":"B","x":9.36,"y":-150},{"s":"B","x":9.4,"y":-88},{"s":"B","x":9.47,"y":-72},{"s":"B","x":9.6,"y":-62},{"s":"B","x":9.8,"y":-56.5},{"s":"B","x":10,"y":-53.5},{"s":"B","x":10.5,"y":-49.5},{"s":"B","x":11,"y":-46.8},{"s":"B","x":12,"y":-43.6},{"s":"B","x":13,"y":-42.3},{"s":"B","x":14,"y":-43.3},{"s":"B","x":15,"y":-47.2},{"s":"B","x":15.5,"y":-51.3},{"s":"B","x":16,"y":-57.5},{"s":"B","x":16.25,"y":-63},{"s":"B","x":16.4,"y":-72},{"s":"B","x":16.48,"y":-88},{"s":"B","x":16.52,"y":-150},{"s":"B","x":16.57,"y":-88},{"s":"B","x":16.65,"y":-72},{"s":"B","x":16.8,"y":-62},{"s":"B","x":17,"y":-56},
{"s":"R","x":-20,"y":-35.2},{"s":"R","x":-10,"y":-26.5},{"s":"R","x":-5,"y":-21.7},{"s":"R","x":0,"y":-17.2},{"s":"R","x":2,"y":-15.4},{"s":"R","x":4,"y":-13.8},{"s":"R","x":5,"y":-13.1},{"s":"R","x":6,"y":-12.6},{"s":"R","x":7,"y":-12.4},{"s":"R","x":8,"y":-12.65},{"s":"R","x":9,"y":-13.45},{"s":"R","x":10,"y":-15.1},{"s":"R","x":10.5,"y":-16.2},{"s":"R","x":11,"y":-17.9},{"s":"R","x":11.5,"y":-20.1},{"s":"R","x":12,"y":-23.3},{"s":"R","x":12.5,"y":-28.2},{"s":"R","x":12.75,"y":-31.5},{"s":"R","x":13,"y":-37},{"s":"R","x":13.15,"y":-45},{"s":"R","x":13.25,"y":-60},{"s":"R","x":13.3,"y":-150},{"s":"R","x":13.35,"y":-60},{"s":"R","x":13.45,"y":-45},{"s":"R","x":13.6,"y":-36},{"s":"R","x":13.8,"y":-29},{"s":"R","x":14,"y":-25},{"s":"R","x":14.5,"y":-20.3},{"s":"R","x":15,"y":-17.9},{"s":"R","x":15.5,"y":-16.6},{"s":"R","x":16,"y":-16},{"s":"R","x":16.5,"y":-16},{"s":"R","x":17,"y":-16.5}
],
"lab": [
{"s":"R","x":-17.6,"y":-20.6,"t":"INT (f₂)"},
{"s":"B","x":-13.5,"y":-43.5,"t":"SOI (f₁)"},
{"s":"K","x":4.1,"y":-22.5,"t":"3f₂"},
{"s":"G","x":0.9,"y":-61.8,"t":"2f₂ - f₁"},
{"s":"D","x":-7.3,"y":-86.5,"t":"2f₁ - f₂"},
{"s":"O","x":-8.5,"y":-109.8,"t":"3f₁"}
]
},
"layer": [
{
"layer": [
{
"data": {"name": "pts"},
"mark": {"type": "point", "filled": false, "shape": "circle", "size": 50, "strokeWidth": 1.3, "opacity": 1, "clip": true},
"encoding": {
"x": {"field": "x", "type": "quantitative", "scale": {"domain": [-20, 17], "nice": false, "zero": false},
"axis": {"values": [-20,-15,-10,-5,0,5,10,15], "labelExpr": "toString(datum.value)", "title": "Input Power at INT (dBm)", "grid": true, "gridDash": [2,3], "gridColor": "#aaaaaa", "gridWidth": 1, "domain": false, "tickSize": -9, "tickColor": "#444444", "tickWidth": 1.5, "labelFontSize": 23, "labelColor": "#222222", "labelPadding": 20, "labelFlush": false, "titleFontSize": 24, "titleFontWeight": "normal", "titleColor": "#222222", "titleX": 279, "titleY": 63, "titleBaseline": "middle"}},
"y": {"field": "y", "type": "quantitative", "scale": {"domain": [-120, -10], "nice": false, "zero": false},
"axis": {"values": [-120,-100,-80,-60,-40,-20], "labelExpr": "toString(datum.value)", "title": "RF Output Power (dBm)", "grid": true, "gridDash": [2,3], "gridColor": "#aaaaaa", "gridWidth": 1, "domain": false, "tickSize": -9, "tickColor": "#444444", "tickWidth": 1.5, "labelFontSize": 23, "labelColor": "#222222", "labelPadding": 11, "labelFlush": false, "titleFontSize": 22.5, "titleFontWeight": "normal", "titleColor": "#222222", "titleX": -76, "titleY": 173, "titleAngle": -90, "titleBaseline": "middle", "titleAlign": "center"}},
"color": {"field": "s", "type": "nominal", "legend": null, "scale": {"domain": ["R","B","K","G","D","O"], "range": ["#ee1d23","#2222cc","#151515","#22c322","#555555","#f5a623"]}}
}
},
{
"data": {"name": "fit"},
"mark": {"type": "line", "strokeWidth": 1.6, "clip": true},
"encoding": {
"x": {"field": "x", "type": "quantitative", "scale": {"domain": [-20, 17], "nice": false, "zero": false}},
"y": {"field": "y", "type": "quantitative", "scale": {"domain": [-120, -10], "nice": false, "zero": false}},
"color": {"field": "s", "type": "nominal", "legend": null}
}
},
{
"data": {"name": "lab"},
"mark": {"type": "text", "align": "left", "baseline": "middle", "fontSize": 23},
"encoding": {
"x": {"field": "x", "type": "quantitative"},
"y": {"field": "y", "type": "quantitative"},
"text": {"field": "t"},
"color": {"field": "s", "type": "nominal", "legend": null}
}
}
]
},
{
"data": {"name": "lab"},
"mark": {"type": "point", "opacity": 0},
"encoding": {
"x": {"field": "x", "type": "quantitative", "axis": {"orient": "top", "values": [-20,-15,-10,-5,0,5,10,15], "labels": false, "grid": false, "domain": false, "title": null, "tickSize": -9, "tickColor": "#444444", "tickWidth": 1.5}},
"y": {"field": "y", "type": "quantitative", "axis": {"orient": "right", "values": [-120,-100,-80,-60,-40,-20], "labels": false, "grid": false, "domain": false, "title": null, "tickSize": -9, "tickColor": "#444444", "tickWidth": 1.5}}
}
}
],
"resolve": {"axis": {"x": "independent", "y": "independent"}}
}
